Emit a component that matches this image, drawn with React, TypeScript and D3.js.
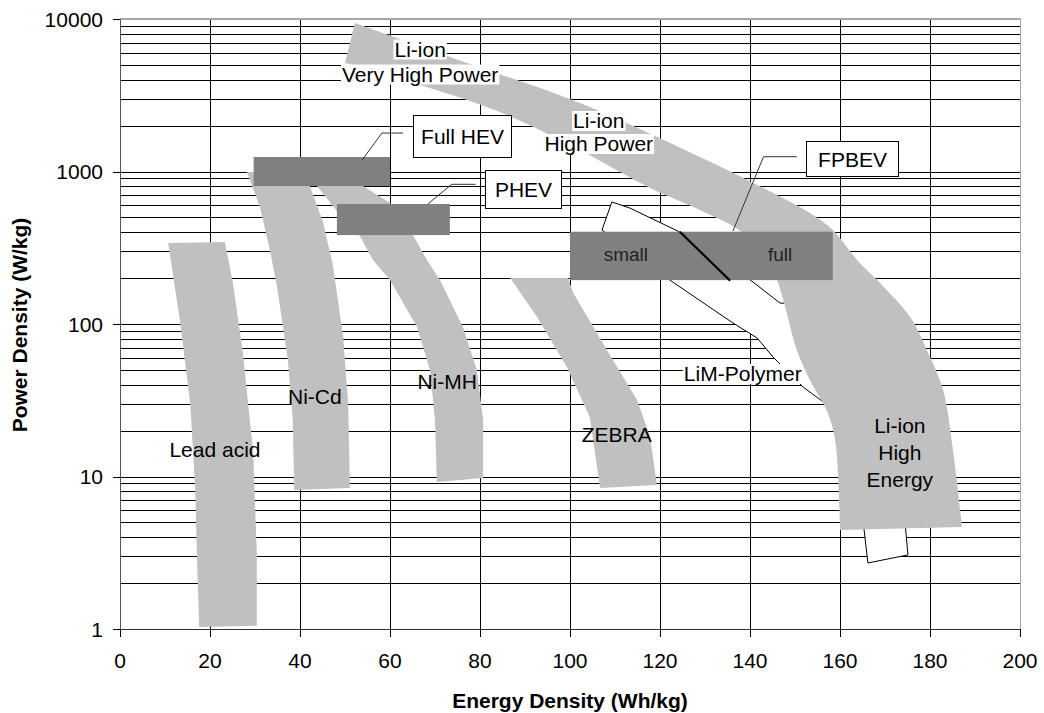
import React, { useEffect, useRef } from 'react';
import * as d3 from 'd3';

type Pt = [number, number]; // [energy Wh/kg, power W/kg]

// ---------- axes ----------
const energyTicks = [0, 20, 40, 60, 80, 100, 120, 140, 160, 180, 200];
const powerTicks = [1, 10, 100, 1000, 10000];
const powerTickLabels = ['1', '10', '100', '1000', '10000'];

// ---------- technology regions (outline points, energy / power) ----------
const leadAcid: Pt[] = [
  [10.7, 340], [23.3, 345], [25.1, 186], [27.3, 65], [29.6, 14.3], [30.4, 3.15], [30.4, 1.05],
  [17.6, 1.03], [17.3, 1.88], [16.7, 8.5], [15.6, 30.3], [13.3, 106],
];
const niCd: Pt[] = [
  [28.2, 993], [41.1, 993], [42.2, 803], [45.1, 467], [47.3, 244], [49.6, 82], [50.7, 30.3], [51.1, 8.4],
  [38.7, 8.16], [38.4, 23.5], [37.3, 58], [34.9, 175], [33.3, 306], [31.1, 585],
];
const niMH: Pt[] = [
  [43.8, 880], [53.3, 880], [54, 803], [60, 621], [65.1, 383], [68.2, 263], [71.1, 194], [76.2, 95.5],
  [79.3, 49.9], [80.7, 23.5], [80.7, 9.78], [70.4, 9.2], [70, 23.5], [68.9, 49.9], [66, 95.5], [60, 194],
  [56.2, 263], [53.3, 378], [48.2, 551], [43.8, 803],
];
const zebra: Pt[] = [
  [86.7, 200], [99.6, 200], [100.7, 160], [108.2, 67.6], [114.9, 31.7], [117.8, 18.2], [119.3, 8.8],
  [106.7, 8.4], [104.4, 24.6], [99.3, 52.2], [92.7, 111],
];
const liIonUpper: Pt[] = [
  [52.2, 9418], [77.8, 5070], [102.2, 2812], [128.9, 1244], [143.8, 757], [153.3, 535], [158.4, 413],
  [163.8, 263], [168.9, 186], [175.6, 111], [179.3, 67.6], [182.9, 36.9], [185.1, 14.9], [187.1, 4.67],
];
const liIonLower: Pt[] = [
  [160, 4.46], [159.6, 9.93], [158.9, 17.4], [157.3, 26.1], [153.3, 42.9], [150.4, 67.6], [147.6, 137],
  [145.8, 200], [142.7, 292], [138.2, 401], [128.9, 559], [117.8, 780], [102.2, 1384], [84.4, 2456],
  [66.7, 3690], [50, 5146],
];
const limPolymer: Pt[] = [
  [107.1, 413], [109.3, 631], [113.3, 576], [124.4, 401], [140.4, 191], [146.7, 137], [151.1, 137],
  [153.8, 67.6], [156.9, 42.9], [159.6, 26.1], [151.8, 38.6], [145.1, 60.8], [141.6, 80.9], [136.2, 101.6],
  [122.2, 194],
];
const liIonTab: Pt[] = [[165.1, 5.2], [166.2, 2.71], [175.1, 3.06], [174.4, 5.2]];

// ---------- vehicle requirement boxes ----------
const vehicleNames = ['Full HEV', 'PHEV', 'FPBEV'];
const vehicleEnergy: Pt[] = [[29.7, 60], [48.2, 73.3], [100, 158.4]];
const vehiclePower: Pt[] = [[803, 1245], [383, 612], [194, 403]];
const fpbevSplit: Pt[] = [[124.4, 403], [135.6, 192]];
const fpbevParts = ['small', 'full'];
const fpbevPartAt: Pt[] = [[112.4, 259], [146.7, 259]];

// ---------- callouts ----------
const calloutEnergy: Pt[] = [[65.0, 86.7], [81.1, 97.9], [152.4, 172.9]];
const calloutPower: Pt[] = [[1250, 2346], [574, 1023], [934, 1585]];
const leaders: Pt[][] = [
  [[62.9, 1787], [58.2, 1787], [53.8, 1189]],
  [[79.0, 824], [73.7, 824], [68.4, 612]],
  [[150.4, 1250], [143.0, 1250], [136.2, 407]],
];

// ---------- region labels ----------
const labels = [
  { lines: ['Li-ion', 'Very High Power'], at: [66.7, 5675] as Pt, bg: true, lh: 25 },
  { lines: ['Li-ion', 'High Power'], at: [106.4, 1928] as Pt, bg: true, lh: 23 },
  { lines: ['Lead acid'], at: [21.1, 13.4] as Pt, bg: false, lh: 0 },
  { lines: ['Ni-Cd'], at: [43.3, 29.9] as Pt, bg: false, lh: 0 },
  { lines: ['Ni-MH'], at: [72.7, 37.5] as Pt, bg: false, lh: 0 },
  { lines: ['ZEBRA'], at: [110.4, 16.8] as Pt, bg: false, lh: 0 },
  { lines: ['LiM-Polymer'], at: [138.4, 42.3] as Pt, bg: true, lh: 0 },
  { lines: ['Li-ion', 'High', 'Energy'], at: [173.3, 19.3] as Pt, bg: false, lh: 27 },
];

const W = 1044;
const H = 713;
const FONT = "'Liberation Sans', Arial, Helvetica, sans-serif";
const BAND = '#c0c0c0';
const BOX = '#808080';

export default function App() {
  const ref = useRef<SVGSVGElement>(null);

  useEffect(() => {
    const svg = d3.select(ref.current!);
    svg.selectAll('*').remove();

    const x = d3.scaleLinear().domain([0, 200]).range([120, 1020]);
    const y = d3.scaleLog().domain([1, 10000]).range([629, 19]);
    const cx = (v: number) => Math.round(x(v)) + 0.5;
    const cy = (v: number) => Math.round(y(v)) + 0.5;

    svg.append('rect').attr('width', W).attr('height', H).attr('fill', '#fff');

    // grid
    const grid = svg.append('g').attr('shape-rendering', 'crispEdges');
    y.ticks()
      .filter((v) => v > 1 && v < 10000)
      .forEach((v) => {
        grid.append('line').attr('x1', x(0)).attr('x2', x(200)).attr('y1', cy(v)).attr('y2', cy(v))
          .attr('stroke', '#000').attr('stroke-width', 1);
      });
    energyTicks.slice(1, -1).forEach((v) => {
      grid.append('line').attr('x1', cx(v)).attr('x2', cx(v)).attr('y1', y(10000)).attr('y2', y(1))
        .attr('stroke', '#000').attr('stroke-width', 1);
    });
    // frame
    grid.append('line').attr('x1', x(0)).attr('x2', x(200) + 1).attr('y1', y(10000)).attr('y2', y(10000))
      .attr('stroke', '#a6a6a6').attr('stroke-width', 2);
    grid.append('line').attr('x1', cx(200)).attr('x2', cx(200)).attr('y1', y(10000)).attr('y2', y(1))
      .attr('stroke', '#a6a6a6').attr('stroke-width', 1.5);
    grid.append('line').attr('x1', cx(0)).attr('x2', cx(0)).attr('y1', y(10000)).attr('y2', y(1))
      .attr('stroke', '#555').attr('stroke-width', 1);
    grid.append('line').attr('x1', x(0)).attr('x2', x(200)).attr('y1', cy(1)).attr('y2', cy(1))
      .attr('stroke', '#333').attr('stroke-width', 1);
    // ticks
    powerTicks.forEach((v) => {
      grid.append('line').attr('x1', x(0) - 7).attr('x2', x(0)).attr('y1', cy(v)).attr('y2', cy(v))
        .attr('stroke', '#000');
    });
    energyTicks.forEach((v) => {
      grid.append('line').attr('x1', cx(v)).attr('x2', cx(v)).attr('y1', y(1)).attr('y2', y(1) + 8)
        .attr('stroke', '#000');
    });

    // tick labels
    const tl = svg.append('g').attr('font-family', FONT).attr('font-size', 21).attr('fill', '#000');
    powerTicks.forEach((v, i) => {
      tl.append('text').attr('x', 103).attr('y', y(v)).attr('dy', '0.36em').attr('text-anchor', 'end')
        .text(powerTickLabels[i]);
    });
    energyTicks.forEach((v) => {
      tl.append('text').attr('x', x(v)).attr('y', 668).attr('text-anchor', 'middle').text(String(v));
    });
    // axis titles
    svg.append('text').attr('x', 570).attr('y', 708).attr('text-anchor', 'middle')
      .attr('font-family', FONT).attr('font-size', 21).attr('font-weight', 'bold')
      .text('Energy Density (Wh/kg)');
    svg.append('text').attr('transform', 'translate(27,325) rotate(-90)').attr('text-anchor', 'middle')
      .attr('font-family', FONT).attr('font-size', 21).attr('font-weight', 'bold')
      .text('Power Density (W/kg)');

    const lin = d3.line<Pt>().x((d) => x(d[0])).y((d) => y(d[1]));
    const closed = (pts: Pt[]) => lin.curve(d3.curveLinearClosed)(pts) as string;

    // white LiM-Polymer region & tab under the Li-ion band
    svg.append('path').attr('d', closed(limPolymer)).attr('fill', '#fff').attr('stroke', '#000')
      .attr('stroke-width', 1).attr('stroke-linejoin', 'round');
    svg.append('path').attr('d', closed(liIonTab)).attr('fill', '#fff').attr('stroke', '#000')
      .attr('stroke-width', 1);

    // bands
    [leadAcid, niCd, niMH, zebra].forEach((pts) => {
      svg.append('path').attr('d', closed(pts)).attr('fill', BAND);
    });
    const edge = d3.line<Pt>().x((d) => x(d[0])).y((d) => y(d[1])).curve(d3.curveCatmullRom.alpha(0.5));
    const up = edge(liIonUpper) as string;
    const lo = edge(liIonLower) as string;
    svg.append('path').attr('d', up + 'L' + lo.slice(1) + 'Z').attr('fill', BAND);

    // vehicle boxes
    vehicleNames.forEach((_, i) => {
      const [e0, e1] = vehicleEnergy[i];
      const [p0, p1] = vehiclePower[i];
      svg.append('rect').attr('x', x(e0)).attr('y', y(p1)).attr('width', x(e1) - x(e0))
        .attr('height', y(p0) - y(p1)).attr('fill', BOX);
    });
    svg.append('path').attr('d', lin.curve(d3.curveLinear)(fpbevSplit) as string)
      .attr('stroke', '#000').attr('stroke-width', 2.2).attr('fill', 'none');
    fpbevParts.forEach((t, i) => {
      svg.append('text').attr('x', x(fpbevPartAt[i][0])).attr('y', y(fpbevPartAt[i][1]))
        .attr('text-anchor', 'middle').attr('font-family', FONT).attr('font-size', 19).attr('fill', '#222')
        .text(t);
    });

    // leaders
    leaders.forEach((pts) => {
      svg.append('path').attr('d', lin.curve(d3.curveLinear)(pts) as string).attr('fill', 'none')
        .attr('stroke', '#333').attr('stroke-width', 1);
    });
    // callouts
    vehicleNames.forEach((name, i) => {
      const [e0, e1] = calloutEnergy[i];
      const [p0, p1] = calloutPower[i];
      const rx = Math.round(x(e0)) + 0.5;
      const ry = Math.round(y(p1)) + 0.5;
      const rw = Math.round(x(e1) - x(e0));
      const rh = Math.round(y(p0) - y(p1));
      svg.append('rect').attr('x', rx).attr('y', ry).attr('width', rw).attr('height', rh)
        .attr('fill', '#fff').attr('stroke', '#000').attr('stroke-width', 1);
      svg.append('text').attr('x', rx + rw / 2).attr('y', ry + rh / 2).attr('dy', '0.36em')
        .attr('text-anchor', 'middle').attr('font-family', FONT).attr('font-size', 21).attr('fill', '#000')
        .text(name);
    });

    // region labels
    labels.forEach((lab) => {
      lab.lines.forEach((ln, k) => {
        const g = svg.append('g');
        const t = g.append('text').attr('x', x(lab.at[0])).attr('y', y(lab.at[1]) + k * lab.lh)
          .attr('text-anchor', 'middle').attr('font-family', FONT).attr('font-size', 21)
          .attr('fill', '#000').text(ln);
        if (lab.bg) {
          const bb = (t.node() as SVGTextElement).getBBox();
          g.insert('rect', 'text').attr('x', bb.x - 1).attr('y', bb.y + 2).attr('width', bb.width + 2)
            .attr('height', bb.height - 3).attr('fill', '#fff');
        }
      });
    });
  }, []);

  return (
    <svg
      ref={ref}
      width={W}
      height={H}
      style={{ position: 'absolute', left: 0, top: 0, display: 'block' }}
    />
  );
}
